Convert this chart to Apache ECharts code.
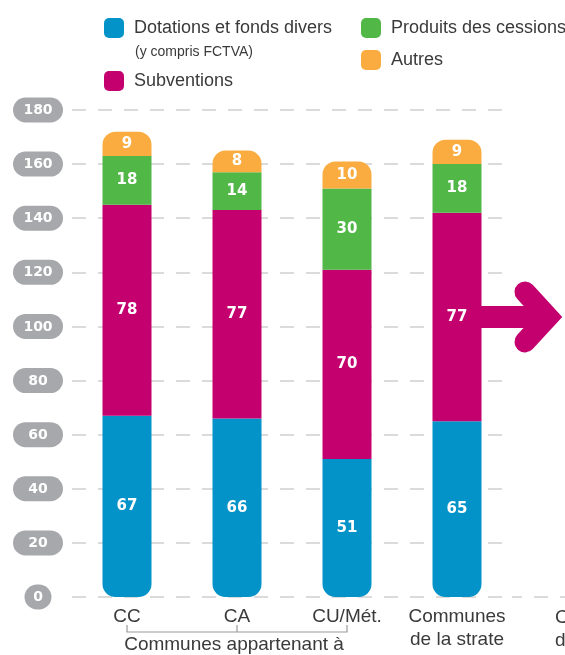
<!DOCTYPE html>
<html>
<head>
<meta charset="utf-8">
<script src="https://cdn.jsdelivr.net/npm/echarts@6/dist/echarts.min.js"></script>
<style>
    html, body { margin: 0; padding: 0; background: #fff; overflow: hidden; }
    #main { width: 565px; height: 655px; }
</style>
</head>
<body>
<div id="main"></div>
<script>
var categories = ['CC', 'CA', 'CU/Mét.', 'Communes\nde la strate'];
var dotations = [67, 66, 51, 65];
var subventions = [78, 77, 70, 77];
var cessions = [18, 14, 30, 18];
var autres = [9, 8, 10, 9];

var seriesNames = ['Dotations et fonds divers', 'Subventions', 'Produits des cessions', 'Autres'];
var colors = ['#0393c9', '#c4006f', '#51b848', '#fbac40'];

var thinFont = '"Liberation Sans", Arial, sans-serif';
var boldFont = '"DejaVu Sans", sans-serif';
var textColor = '#3a3a3a';

var chart = echarts.init(document.getElementById('main'));

function legendAt(name, left, top) {
    return {
        data: [name],
        left: left,
        top: top,
        padding: 0,
        icon: 'roundRect',
        itemWidth: 20,
        itemHeight: 20,
        selectedMode: false,
        textStyle: {
            fontFamily: thinFont,
            fontSize: 18,
            color: textColor,
            padding: [0, 0, 0, 5]
        }
    };
}

function barSeries(i, data, radius) {
    return {
        name: seriesNames[i],
        type: 'bar',
        stack: 'total',
        barWidth: 49,
        data: data,
        itemStyle: {
            color: colors[i],
            borderRadius: radius
        },
        label: {
            show: true,
            color: '#fff',
            fontFamily: boldFont,
            fontWeight: 'bold',
            fontSize: 15
        }
    };
}

var pillStyle = {
    align: 'center',
    backgroundColor: '#a7a8ab',
    borderRadius: 13,
    color: '#fff',
    fontFamily: boldFont,
    fontWeight: 'bold',
    fontSize: 14
};

var option = {
    animation: false,
    color: colors,
    legend: [
        legendAt(seriesNames[0], 104, 18),
        legendAt(seriesNames[1], 104, 71),
        legendAt(seriesNames[2], 361, 18),
        legendAt(seriesNames[3], 361, 50)
    ],
    grid: {
        left: 72,
        right: 53,
        top: 110,
        bottom: 58
    },
    xAxis: {
        type: 'category',
        data: categories,
        axisLine: { show: false },
        axisTick: { show: false },
        axisLabel: {
            interval: 0,
            margin: 8,
            fontFamily: thinFont,
            fontSize: 19,
            lineHeight: 23,
            color: textColor
        }
    },
    yAxis: {
        type: 'value',
        min: 0,
        max: 180,
        interval: 20,
        axisLine: { show: false },
        axisTick: { show: false },
        splitLine: {
            lineStyle: {
                color: '#cfcfcf',
                width: 1.5,
                type: [14, 12]
            }
        },
        axisLabel: {
            margin: 34,
            align: 'center',
            formatter: function (v) {
                return v === 0 ? '{z|0}' : '{p|' + v + '}';
            },
            rich: {
                p: Object.assign({ width: 30, padding: [6, 10, 5, 10] }, pillStyle),
                z: Object.assign({ width: 11, padding: [6, 8, 5, 8] }, pillStyle)
            }
        }
    },
    series: [
        barSeries(0, dotations, [0, 0, 13, 13]),
        barSeries(1, subventions, 0),
        barSeries(2, cessions, 0),
        barSeries(3, autres, [13, 13, 0, 0])
    ]
};

chart.setOption(option);

// decorations placed from the chart's own scales
var xCC = chart.convertToPixel({ xAxisIndex: 0 }, 0);
var xCA = chart.convertToPixel({ xAxisIndex: 0 }, 1);
var xCU = chart.convertToPixel({ xAxisIndex: 0 }, 2);
var xStrate = chart.convertToPixel({ xAxisIndex: 0 }, 3);
var y0 = chart.convertToPixel({ yAxisIndex: 0 }, 0);
var yArrow = chart.convertToPixel({ yAxisIndex: 0 }, dotations[3] + subventions[3] / 2);
var arrowStart = xStrate + 24;
var tipX = 548;

chart.setOption({
    graphic: [
        {
            type: 'text',
            left: 135,
            top: 45,
            style: {
                text: '(y compris FCTVA)',
                font: '14px ' + thinFont,
                fill: textColor
            }
        },
        {
            // zero line continues to the next panel
            type: 'line',
            shape: { x1: 512, y1: y0, x2: 565, y2: y0 },
            style: { stroke: '#cfcfcf', lineWidth: 1.5, lineDash: [14, 12], lineDashOffset: 4 }
        },
        {
            type: 'text',
            left: 555,
            top: y0 + 9,
            style: {
                text: 'Communes\nde la strate',
                font: '19px ' + thinFont,
                lineHeight: 23,
                fill: textColor
            }
        },
        {
            // bracket under CC / CA / CU
            type: 'polyline',
            shape: {
                points: [[xCC, 625], [xCC, 632], [xCU, 632], [xCU, 625]]
            },
            style: { stroke: '#999', lineWidth: 1.2, fill: null }
        },
        {
            type: 'line',
            shape: { x1: xCA, y1: 625, x2: xCA, y2: 632 },
            style: { stroke: '#999', lineWidth: 1.2 }
        },
        {
            type: 'text',
            x: (xCC + xCU) / 2 - 3,
            y: 645,
            style: {
                text: 'Communes appartenant à',
                font: '19px ' + thinFont,
                fill: textColor,
                align: 'center',
                verticalAlign: 'middle'
            }
        },
        {
            // arrow
            type: 'line',
            shape: { x1: arrowStart, y1: yArrow, x2: tipX, y2: yArrow },
            style: { stroke: colors[1], lineWidth: 22 }
        },
        {
            type: 'polyline',
            shape: {
                points: [[tipX - 23, yArrow - 25], [tipX, yArrow], [tipX - 23, yArrow + 25]]
            },
            style: { stroke: colors[1], lineWidth: 21, lineCap: 'round', lineJoin: 'miter', fill: null }
        }
    ]
});
</script>
</body>
</html>
